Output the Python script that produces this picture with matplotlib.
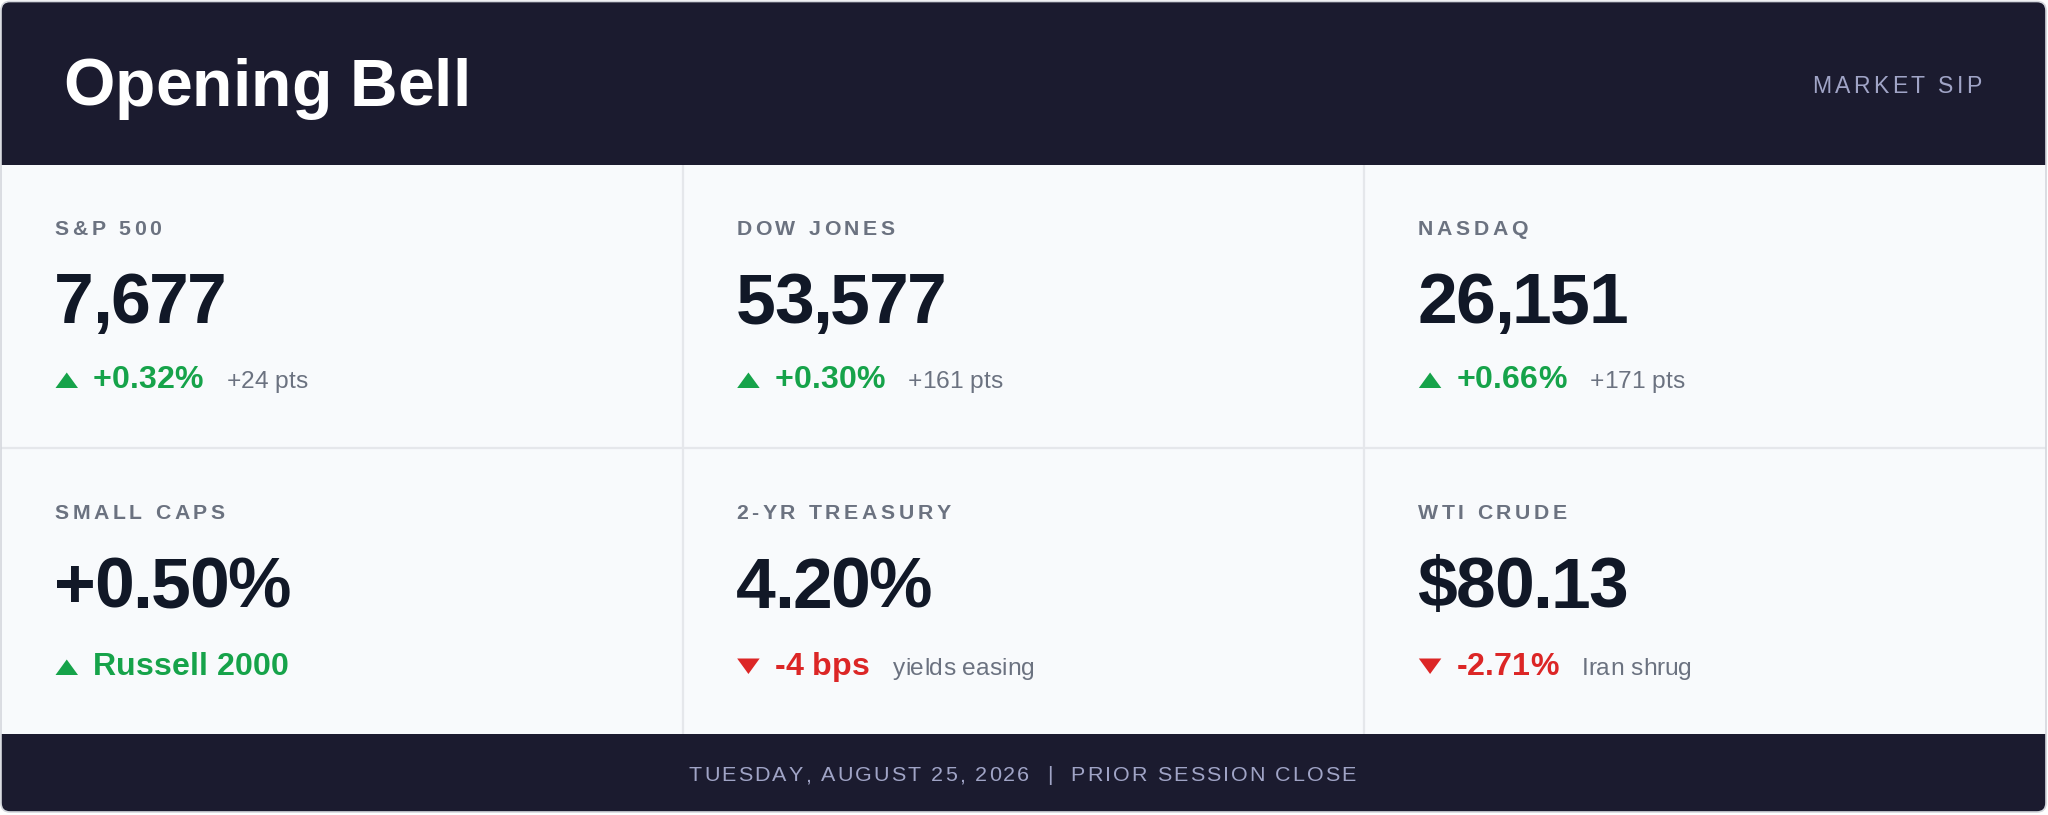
import matplotlib
matplotlib.use("Agg")
import matplotlib.pyplot as plt
from matplotlib.patches import FancyBboxPatch, Rectangle, Polygon
from matplotlib import font_manager
from matplotlib.ft2font import FT2Font

# ---------------- data ----------------
title = "Opening Bell"
brand = "MARKET SIP"
footer = "TUESDAY, AUGUST 25, 2026  |  PRIOR SESSION CLOSE"
labels = ["S&P 500", "DOW JONES", "NASDAQ", "SMALL CAPS", "2-YR TREASURY", "WTI CRUDE"]
values = ["7,677", "53,577", "26,151", "+0.50%", "4.20%", "$80.13"]
changes = ["+0.32%", "+0.30%", "+0.66%", "Russell 2000", "-4 bps", "-2.71%"]
directions = ["up", "up", "up", "up", "down", "down"]
notes = ["+24 pts", "+161 pts", "+171 pts", "", "yields easing", "Iran shrug"]

# ---------------- style ----------------
W, H, DPI = 2048, 815, 100
DARK = "#1b1b2f"
CELL_BG = "#f8fafc"
GRID = "#e5e7eb"
LABEL_C = "#6b7280"
VALUE_C = "#111827"
NOTE_C = "#6b7280"
MUTED = "#a0a4c6"
UP_C = "#16a34a"
DOWN_C = "#dc2626"
FAMILY = "Liberation Sans"

fig = plt.figure(figsize=(W / DPI, H / DPI), dpi=DPI)
fig.patch.set_facecolor("white")
ax = fig.add_axes([0, 0, 1, 1])
ax.set_xlim(0, W)
ax.set_ylim(H, 0)
ax.axis("off")

_fonts = {}


def _font(weight):
    if weight not in _fonts:
        path = font_manager.findfont(font_manager.FontProperties(family=FAMILY, weight=weight))
        _fonts[weight] = FT2Font(path)
    return _fonts[weight]


def advances(s, px, weight):
    f = _font(weight)
    f.set_size(px, 72)
    out = []
    for ch in s:
        g = f.load_char(ord(ch))
        out.append(g.linearHoriAdvance / 65536)
    return out


def tracked(x, y, s, px, weight, color, spacing=0.0, ha="left"):
    adv = advances(s, px, weight)
    total = sum(adv) + spacing * (len(s) - 1)
    if ha == "center":
        x0 = x - total / 2
    elif ha == "right":
        x0 = x - total
    else:
        x0 = x
    cx = x0
    for ch, a in zip(s, adv):
        if ch != " ":
            ax.text(cx, y, ch, fontsize=px * 72 / DPI, family=FAMILY,
                    fontweight=weight, color=color, ha="left", va="baseline")
        cx += a + spacing
    return x0 + total


# ---------------- card ----------------
L, R, T, B = 1, 2046, 1.5, 812
HEAD_B, FOOT_T = 165, 734
card = FancyBboxPatch((L, T), R - L, B - T, boxstyle="round,pad=0,rounding_size=9",
                      facecolor=DARK, edgecolor="none", zorder=0)
ax.add_patch(card)
ax.add_patch(Rectangle((L, HEAD_B), R - L, FOOT_T - HEAD_B, facecolor=CELL_BG,
                       edgecolor="none", zorder=1))
border = FancyBboxPatch((L, T), R - L, B - T, boxstyle="round,pad=0,rounding_size=9",
                        facecolor="none", edgecolor="#d4d7dd", linewidth=1.2, zorder=5)
ax.add_patch(border)

ncols = 3
col_w = (R - L) / ncols
# grid lines
ax.plot([L, R], [448, 448], color=GRID, lw=1.6, zorder=2, solid_capstyle="butt")
for c in range(1, ncols):
    xv = L + c * col_w
    ax.plot([xv, xv], [HEAD_B, FOOT_T], color=GRID, lw=1.6, zorder=2, solid_capstyle="butt")

# ---------------- header / footer ----------------
tracked(63.5, 106, title, 66, "bold", "white", spacing=0.0)
tracked(1981.5, 93, brand, 23, "normal", MUTED, spacing=3.3, ha="right")
tracked((L + R) / 2 - 1, 781, footer, 21.5, "normal", MUTED, spacing=2.05, ha="center")

# ---------------- cells ----------------
PAD = 54
label_base = [235, 519]
value_base = [323, 607.5]
change_base = [388, 675]

for i, (lab, val, chg, d, note) in enumerate(zip(labels, values, changes, directions, notes)):
    r, c = divmod(i, ncols)
    x0 = L + c * col_w + PAD
    tracked(x0 - 0.5, label_base[r], lab, 21.3, "bold", LABEL_C, spacing=3.6)
    tracked(x0 - 1, value_base[r], val, 71.5, "bold", VALUE_C, spacing=-1.6)
    col = UP_C if d == "up" else DOWN_C
    yb = change_base[r]
    tw, th = 22.5, 15.5
    tx = x0 + 0.5
    if d == "up":
        pts = [(tx, yb), (tx + tw, yb), (tx + tw / 2, yb - th)]
    else:
        pts = [(tx, yb - th - 1), (tx + tw, yb - th - 1), (tx + tw / 2, yb - 1)]
    ax.add_patch(Polygon(pts, closed=True, facecolor=col, edgecolor="none", zorder=3))
    end = tracked(x0 + 38, yb, chg, 32.2, "bold", col)
    if note:
        tracked(end + 23, yb, note, 24.5, "normal", NOTE_C)

fig.savefig("out.png", dpi=DPI, facecolor="white")
